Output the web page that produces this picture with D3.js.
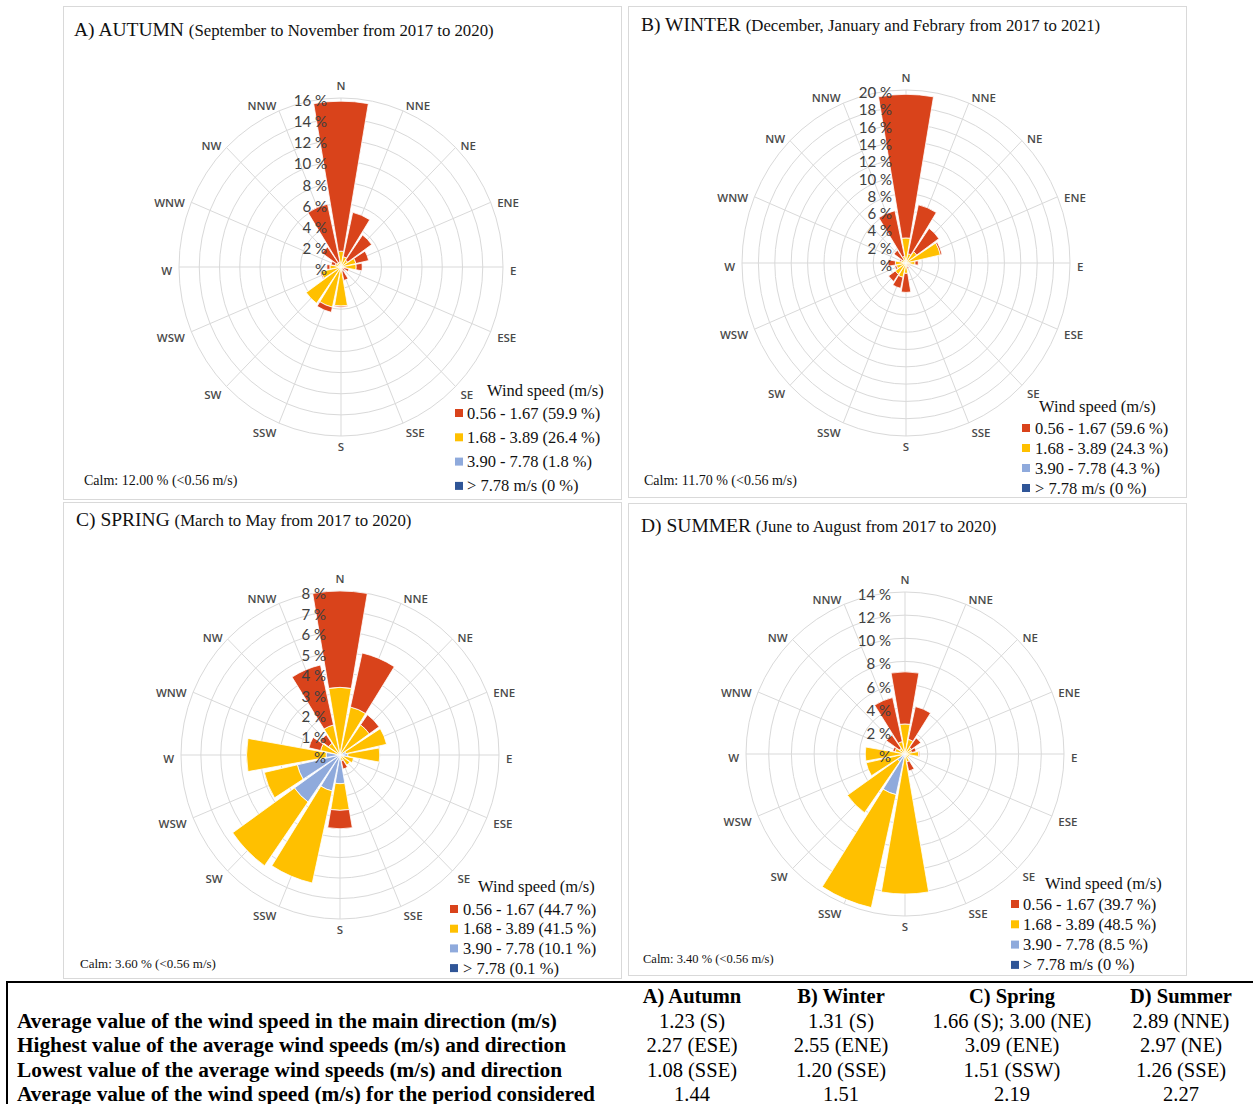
<!DOCTYPE html>
<html>
<head>
<meta charset="utf-8">
<script src="https://cdn.jsdelivr.net/npm/d3@7"></script>
<style>
  body { margin: 0; background: #fff; }
  svg { display: block; }
</style>
</head>
<body>
<svg id="chart" width="1253" height="1104"></svg>
<script>
// ---- Wind directions (16-point compass, clockwise from north) ----
const directions = ["N","NNE","NE","ENE","E","ESE","SE","SSE","S","SSW","SW","WSW","W","WNW","NW","NNW"];

// ---- Frequency (% of time) per direction and wind-speed class ----
// Autumn
const autumnLow  = [14.2, 4.3, 2.9, 1.3, 0.6, 0.5, 0.3, 0.9, 0.1, 0.5, 0.0, 0.1, 0.3, 0.4, 1.8, 5.6];
const autumnMid  = [1.4, 0.9, 0.7, 1.4, 1.4, 0.3, 0.2, 0.3, 3.5, 3.7, 3.9, 1.8, 0.9, 0.5, 0.5, 0.5];
const autumnHigh = [0.1, 0.1, 0.1, 0.1, 0.1, 0.0, 0.0, 0.1, 0.2, 0.2, 0.3, 0.2, 0.2, 0.1, 0.0, 0.0];
const autumnTop  = [0, 0, 0, 0, 0, 0, 0, 0, 0, 0, 0, 0, 0, 0, 0, 0];
// Winter
const winterLow  = [16.6, 5.8, 3.3, 0.2, 0.4, 0.1, 0.1, 0.2, 2.2, 1.3, 1.0, 0.2, 0.9, 0.2, 1.3, 5.4];
const winterMid  = [2.8, 1.0, 1.5, 4.1, 1.0, 0.5, 0.3, 0.4, 1.0, 1.4, 1.3, 1.0, 1.1, 0.5, 0.5, 0.8];
const winterHigh = [0.1, 0.1, 0.1, 0.2, 0.1, 0.0, 0.0, 0.1, 0.2, 0.3, 0.3, 0.2, 0.2, 0.1, 0.0, 0.0];
const winterTop  = [0, 0, 0, 0, 0, 0, 0, 0, 0, 0, 0, 0, 0, 0, 0, 0];
// Spring
const springLow  = [4.7, 2.7, 0.6, 0.0, 0.0, 0.0, 0.0, 0.4, 0.9, 0.0, 0.0, 0.0, 0.0, 0.6, 0.5, 3.0];
const springMid  = [3.2, 2.3, 1.7, 2.1, 1.6, 0.5, 0.5, 0.2, 1.3, 4.6, 3.8, 1.7, 4.0, 0.9, 0.6, 1.4];
const springHigh = [0.1, 0.1, 0.1, 0.3, 0.4, 0.2, 0.1, 0.1, 1.4, 1.8, 2.8, 2.2, 0.7, 0.1, 0.1, 0.1];
const springTop  = [0, 0, 0, 0, 0, 0, 0, 0, 0, 0, 0, 0, 0, 0, 0, 0];
// Summer
const summerLow  = [4.5, 2.9, 1.0, 0.4, 0.1, 0.0, 0.0, 0.8, 0.0, 0.0, 0.0, 0.0, 0.0, 0.2, 1.4, 3.9];
const summerMid  = [2.5, 1.2, 0.6, 0.5, 1.1, 0.3, 0.3, 0.6, 11.8, 10.0, 5.4, 3.2, 3.3, 0.8, 0.5, 1.0];
const summerHigh = [0.1, 0.1, 0.1, 0.1, 0.1, 0.1, 0.1, 0.1, 0.3, 3.6, 0.8, 0.3, 0.2, 0.1, 0.1, 0.1];
const summerTop  = [0, 0, 0, 0, 0, 0, 0, 0, 0, 0, 0, 0, 0, 0, 0, 0];

// ---- Legend entries ----
const autumnLegend = ["0.56 - 1.67 (59.9 %)", "1.68 - 3.89 (26.4 %)", "3.90 - 7.78 (1.8 %)", "> 7.78 m/s (0 %)"];
const winterLegend = ["0.56 - 1.67 (59.6 %)", "1.68 - 3.89 (24.3 %)", "3.90 - 7.78 (4.3 %)", "> 7.78 m/s (0 %)"];
const springLegend = ["0.56 - 1.67 (44.7 %)", "1.68 - 3.89 (41.5 %)", "3.90 - 7.78 (10.1 %)", "> 7.78 (0.1 %)"];
const summerLegend = ["0.56 - 1.67 (39.7 %)", "1.68 - 3.89 (48.5 %)", "3.90 - 7.78 (8.5 %)", "> 7.78 m/s (0 %)"];

// ---- Summary table ----
const tableColumns = ["A) Autumn", "B) Winter", "C) Spring", "D) Summer"];
const tableRows = [
  "Average value of the wind speed in the main direction (m/s)",
  "Highest value of the average wind speeds (m/s) and direction",
  "Lowest value of the average wind speeds (m/s) and direction",
  "Average value of the wind speed (m/s) for the period considered"
];
const tableValues = [
  ["1.23 (S)", "1.31 (S)", "1.66 (S); 3.00 (NE)", "2.89 (NNE)"],
  ["2.27 (ESE)", "2.55 (ENE)", "3.09 (ENE)", "2.97 (NE)"],
  ["1.08 (SSE)", "1.20 (SSE)", "1.51 (SSW)", "1.26 (SSE)"],
  ["1.44", "1.51", "2.19", "2.27"]
];

// ---- Styling ----
const classKeys = ["top", "high", "mid", "low"];          // drawn from the centre outwards
const legendKeys = ["low", "mid", "high", "top"];
const colors = { low: "#d9431b", mid: "#ffc000", high: "#8faadc", top: "#2f5597" };
const SERIF = "'Liberation Serif', 'Times New Roman', serif";
const SANS = "'Open Sans', 'Liberation Sans', sans-serif";
const LABEL = "Lato, 'Open Sans', sans-serif";

const panels = [
  { title: "A) AUTUMN", sub: "(September to November from 2017 to 2020)", tx: 74, ty: 29,
    box: [63.5, 6.5, 558, 493], cx: 341, cy: 267, rx: 162, ry: 169, max: 16, step: 2,
    low: autumnLow, mid: autumnMid, high: autumnHigh, top: autumnTop, legend: autumnLegend,
    leg: { hx: 487, hy: 390, sx: 455, tx: 467, y0: 413, dy: 24.3, fs: 16.5 },
    calm: "Calm: 12.00 % (<0.56 m/s)", calmX: 84, calmY: 480, calmFs: 14 },
  { title: "B) WINTER", sub: "(December, January and Febrary from 2017 to 2021)", tx: 641, ty: 24,
    box: [628.5, 6.5, 558, 491], cx: 906, cy: 263, rx: 164, ry: 173, max: 20, step: 2,
    low: winterLow, mid: winterMid, high: winterHigh, top: winterTop, legend: winterLegend,
    leg: { hx: 1039, hy: 406, sx: 1022, tx: 1035, y0: 428, dy: 20, fs: 16.5 },
    calm: "Calm: 11.70 % (<0.56 m/s)", calmX: 644, calmY: 480, calmFs: 14 },
  { title: "C) SPRING", sub: "(March to May from 2017 to 2020)", tx: 76, ty: 519,
    box: [63.5, 502.5, 558, 476], cx: 340, cy: 755, rx: 159, ry: 164, max: 8, step: 1,
    low: springLow, mid: springMid, high: springHigh, top: springTop, legend: springLegend,
    leg: { hx: 478, hy: 886, sx: 450, tx: 463, y0: 909, dy: 19.7, fs: 16.5 },
    calm: "Calm: 3.60 % (<0.56 m/s)", calmX: 80, calmY: 963, calmFs: 13 },
  { title: "D) SUMMER", sub: "(June to August from 2017 to 2020)", tx: 641, ty: 525,
    box: [628.5, 503.5, 558, 472], cx: 905, cy: 754, rx: 159, ry: 162, max: 14, step: 2,
    low: summerLow, mid: summerMid, high: summerHigh, top: summerTop, legend: summerLegend,
    leg: { hx: 1045, hy: 883, sx: 1011, tx: 1023, y0: 904, dy: 20.3, fs: 16.5 },
    calm: "Calm: 3.40 % (<0.56 m/s)", calmX: 643, calmY: 959, calmFs: 12.5 }
];

const svg = d3.select("#chart");

// Angular band per direction, centred on the compass bearing
const angle = d3.scaleBand()
  .domain(directions)
  .range([-Math.PI / 16, 2 * Math.PI - Math.PI / 16])
  .paddingInner(0.12)
  .paddingOuter(0.06);
const bearing = d => angle(d) + angle.bandwidth() / 2;

panels.forEach(p => {
  // frame
  svg.append("rect")
    .attr("x", p.box[0]).attr("y", p.box[1]).attr("width", p.box[2]).attr("height", p.box[3])
    .attr("fill", "#fff").attr("stroke", "#d9d9d9").attr("stroke-width", 1);

  // title
  const t = svg.append("text").attr("x", p.tx).attr("y", p.ty + 6.5)
    .attr("font-family", SERIF).attr("fill", "#111");
  t.append("tspan").attr("font-size", 19.5).text(p.title + " ");
  t.append("tspan").attr("font-size", 16.8).text(p.sub);

  const ky = p.ry / p.rx;
  const r = d3.scaleLinear().domain([0, p.max]).range([0, p.rx]);
  const ticks = d3.range(0, p.max + p.step / 2, p.step);

  const g = svg.append("g").attr("transform", `translate(${p.cx},${p.cy})`);
  const plot = g.append("g").attr("transform", `scale(1,${ky})`);

  // grid rings
  plot.selectAll("circle.ring").data(ticks.slice(1)).join("circle")
    .attr("class", "ring").attr("r", d => r(d))
    .attr("fill", "none").attr("stroke", "#d9d9d9").attr("stroke-width", 1)
    .attr("vector-effect", "non-scaling-stroke");
  // spokes
  plot.selectAll("line.spoke").data(directions).join("line")
    .attr("class", "spoke")
    .attr("x1", 0).attr("y1", 0)
    .attr("x2", d => r(p.max) * Math.sin(bearing(d)))
    .attr("y2", d => -r(p.max) * Math.cos(bearing(d)))
    .attr("stroke", "#d9d9d9").attr("stroke-width", 1)
    .attr("vector-effect", "non-scaling-stroke");

  // stacked bars
  const rows = directions.map((d, i) => ({ dir: d, low: p.low[i], mid: p.mid[i], high: p.high[i], top: p.top[i] }));
  const series = d3.stack().keys(classKeys)(rows);
  const arc = d3.arc()
    .innerRadius(d => r(d[0]))
    .outerRadius(d => r(d[1]))
    .startAngle(d => angle(d.data.dir))
    .endAngle(d => angle(d.data.dir) + angle.bandwidth());
  plot.selectAll("g.series").data(series).join("g")
    .attr("class", "series")
    .attr("fill", s => colors[s.key])
    .selectAll("path").data(s => s.filter(d => d[1] - d[0] > 0)).join("path")
    .attr("d", arc)
    .attr("stroke", "#fff").attr("stroke-width", 0.8)
    .attr("vector-effect", "non-scaling-stroke");

  // radial value labels
  g.selectAll("text.tick").data(ticks).join("text")
    .attr("class", "tick")
    .attr("x", -14)
    .attr("y", d => -r(d) * ky + 2)
    .attr("dominant-baseline", "central")
    .attr("text-anchor", "end")
    .attr("font-family", LABEL).attr("font-size", 15).attr("fill", "#404040")
    .text(d => d === 0 ? "%" : `${d} %`);

  // compass labels, set just outside the outer ring
  const pad = 7;
  g.selectAll("text.dir").data(directions).join("text")
    .attr("class", "dir")
    .attr("font-family", SANS).attr("font-size", 11.5).attr("font-weight", 600).attr("fill", "#4a4a4a")
    .attr("text-anchor", "middle").attr("dominant-baseline", "central")
    .text(d => d)
    .each(function (d) {
      const th = bearing(d);
      const w = this.getComputedTextLength();
      const s = Math.sin(th), c = Math.cos(th);
      const x = (p.rx + pad) * s + (Math.abs(s) > 0.01 ? Math.sign(s) * w / 2 : 0);
      const y = -(p.ry + pad) * c - (c > 0 ? 9 * Math.pow(c, 20) : 0) + 3;
      d3.select(this).attr("x", x).attr("y", y);
    });

  // legend
  const L = p.leg;
  svg.append("text").attr("x", L.hx).attr("y", L.hy).attr("dominant-baseline", "central")
    .attr("font-family", SERIF).attr("font-size", L.fs).attr("fill", "#111")
    .text("Wind speed (m/s)");
  const items = svg.append("g").selectAll("g").data(legendKeys).join("g")
    .attr("transform", (k, i) => `translate(0,${L.y0 + i * L.dy})`);
  items.append("rect").attr("x", L.sx).attr("y", -4).attr("width", 8).attr("height", 8)
    .attr("fill", k => colors[k]);
  items.append("text").attr("x", L.tx).attr("y", 0).attr("dominant-baseline", "central")
    .attr("font-family", SERIF).attr("font-size", L.fs).attr("fill", "#111")
    .text((k, i) => p.legend[i]);

  // calm share
  svg.append("text").attr("x", p.calmX).attr("y", p.calmY).attr("dominant-baseline", "central")
    .attr("font-family", SERIF).attr("font-size", p.calmFs).attr("fill", "#111")
    .text(p.calm);
});

// ---- Summary table ----
const colX = [692, 841, 1012, 1181];
const rowY = [1021, 1045, 1070, 1094];
const rowW = [540, 549, 545, 578];
svg.append("rect").attr("x", 7).attr("y", 982).attr("width", 1260).attr("height", 200)
  .attr("fill", "none").attr("stroke", "#000").attr("stroke-width", 2);
const table = svg.append("g").attr("font-family", SERIF).attr("fill", "#000");
table.selectAll("text.col").data(tableColumns).join("text")
  .attr("class", "col").attr("x", (d, i) => colX[i]).attr("y", 996)
  .attr("dominant-baseline", "central").attr("text-anchor", "middle")
  .attr("font-size", 20.5).attr("font-weight", "bold").text(d => d);
table.selectAll("text.row").data(tableRows).join("text")
  .attr("class", "row").attr("x", 17).attr("y", (d, i) => rowY[i])
  .attr("dominant-baseline", "central")
  .attr("font-size", 20.5).attr("font-weight", "bold")
  .attr("textLength", (d, i) => rowW[i]).attr("lengthAdjust", "spacingAndGlyphs")
  .text(d => d);
tableValues.forEach((vals, ri) => {
  table.selectAll(`text.v${ri}`).data(vals).join("text")
    .attr("class", `v${ri}`).attr("x", (d, i) => colX[i]).attr("y", rowY[ri])
    .attr("dominant-baseline", "central").attr("text-anchor", "middle")
    .attr("font-size", 20.5).text(d => d);
});
</script>
</body>
</html>
